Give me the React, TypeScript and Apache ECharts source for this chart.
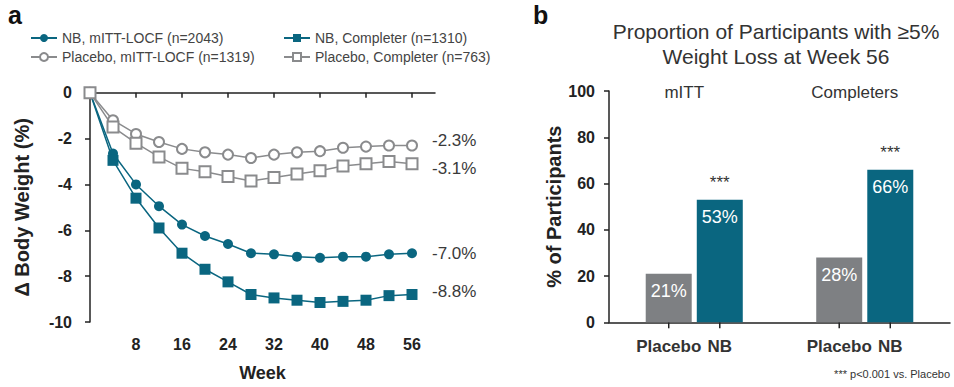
import React, { useEffect, useRef } from "react";
import * as echarts from "echarts";

const weeks = [0, 4, 8, 12, 16, 20, 24, 28, 32, 36, 40, 44, 48, 52, 56];
const xTicks = [8, 16, 24, 32, 40, 48, 56];
const nbItt = [0, -2.65, -4.0, -4.95, -5.75, -6.25, -6.6, -7.0, -7.05, -7.15, -7.2, -7.15, -7.15, -7.05, -7.0];
const nbComp = [0, -2.95, -4.6, -5.9, -7.0, -7.7, -8.25, -8.8, -8.95, -9.05, -9.15, -9.1, -9.05, -8.85, -8.8];
const plItt = [0, -1.2, -1.8, -2.15, -2.45, -2.6, -2.7, -2.85, -2.7, -2.6, -2.55, -2.4, -2.35, -2.3, -2.3];
const plComp = [0, -1.5, -2.2, -2.8, -3.3, -3.45, -3.65, -3.85, -3.7, -3.55, -3.4, -3.2, -3.1, -3.0, -3.1];
const seriesNames = [
  "NB, mITT-LOCF (n=2043)",
  "NB, Completer (n=1310)",
  "Placebo, mITT-LOCF (n=1319)",
  "Placebo, Completer (n=763)",
];

const groups = ["mITT", "Completers"];
const arms = ["Placebo", "NB"];
const placeboPct = [21, 28];
const nbPct = [53, 66];
const sigMark = "***";

const TEAL = "#0a6680";
const GRAY = "#8a8b8d";
const BARGRAY = "#7e8083";
const FONT = "'Liberation Sans', Arial, sans-serif";
const AX = "#222";
const BAR_W = 46;
const BAR_GAP = 0.11;

export default function App() {
  const ref = useRef<HTMLDivElement>(null);
  useEffect(() => {
    const chart = echarts.init(ref.current!, null, { renderer: "svg" });
    const pair = (xs: number[], ys: number[]) => xs.map((x, i) => [x, ys[i]]);
    const lineSeries = (name: string, ys: number[], color: string, symbol: string, size: number, filled: boolean, dy: number) => ({
      type: "line",
      name,
      xAxisIndex: 0,
      yAxisIndex: 0,
      data: pair(weeks, ys),
      symbol,
      symbolSize: size,
      lineStyle: { color, width: 1.5 },
      itemStyle: filled ? { color } : { color: "#fff", borderColor: color, borderWidth: 2 },
      endLabel: {
        show: true,
        formatter: (p: any) => `${p.value[1].toFixed(1)}%`,
        color: "#3a3a3a",
        fontSize: 17,
        fontFamily: FONT,
        distance: 20,
        offset: [0, dy],
      },
    });
    const legendBase = {
      orient: "vertical",
      top: 26,
      itemWidth: 26,
      itemHeight: 10,
      itemGap: 5,
      textStyle: { fontSize: 14, color: "#444", fontFamily: FONT },
    };
    const armCells: number[][] = [];
    groups.forEach((_g, gi) => arms.forEach((_a, ai) => armCells.push([gi, ai])));
    chart.setOption({
      animation: false,
      textStyle: { fontFamily: FONT },
      title: [
        { text: "a", left: 3, top: -3, textStyle: { fontSize: 25, fontWeight: "bold", color: "#111", fontFamily: FONT } },
        { text: "b", left: 528, top: -3, textStyle: { fontSize: 25, fontWeight: "bold", color: "#111", fontFamily: FONT } },
        {
          text: "Proportion of Participants with \u22655%\nWeight Loss at Week 56",
          left: 771,
          top: 14,
          textAlign: "center",
          textStyle: { fontSize: 21, fontWeight: "normal", color: "#333", lineHeight: 25, fontFamily: FONT },
        },
        {
          text: "*** p<0.001 vs. Placebo",
          right: -1,
          top: 363,
          textStyle: { fontSize: 11, fontWeight: "normal", color: "#333", fontFamily: FONT },
        },
      ],
      legend: [
        { ...legendBase, data: [seriesNames[0], seriesNames[2]], left: 25 },
        { ...legendBase, data: [seriesNames[1], seriesNames[3]], left: 278 },
      ],
      grid: [
        { left: 90, right: 519, top: 92.7, bottom: 64.3 },
        { left: 609, right: 4, top: 91, bottom: 64.7 },
      ],
      xAxis: [
        {
          type: "value",
          gridIndex: 0,
          min: 0,
          max: 60,
          name: "Week",
          nameLocation: "middle",
          nameGap: 42,
          nameTextStyle: { fontSize: 18, fontWeight: "bold", color: AX, fontFamily: FONT },
          splitLine: { show: false },
          axisLine: { lineStyle: { color: AX, width: 1.5 } },
          axisTick: { show: true, length: 5, customValues: xTicks, lineStyle: { color: AX, width: 1.5 } },
          axisLabel: { customValues: xTicks, margin: 14, fontSize: 16, fontWeight: "bold", color: AX, fontFamily: FONT },
        },
        {
          type: "category",
          gridIndex: 1,
          data: groups,
          axisLine: { lineStyle: { color: AX, width: 1.5 } },
          axisTick: { show: false },
          axisLabel: { show: false },
        },
        {
          type: "category",
          gridIndex: 1,
          position: "top",
          data: groups,
          axisLine: { show: false },
          axisTick: { show: false },
          axisLabel: {
            show: true,
            margin: -10,
            padding: [0, 20, 0, 0],
            fontSize: 17,
            color: "#333",
            fontFamily: FONT,
          },
        },
      ],
      yAxis: [
        {
          type: "value",
          gridIndex: 0,
          min: -10,
          max: 0,
          interval: 2,
          name: "\u0394 Body Weight (%)",
          nameLocation: "middle",
          nameGap: 58,
          nameTextStyle: { fontSize: 20, fontWeight: "bold", color: AX, fontFamily: FONT },
          splitLine: { show: false },
          axisLine: { show: true, lineStyle: { color: AX, width: 1.5 } },
          axisTick: { show: true, length: 5, lineStyle: { color: AX, width: 1.5 } },
          axisLabel: { margin: 18, fontSize: 16, fontWeight: "bold", color: AX, fontFamily: FONT },
        },
        {
          type: "value",
          gridIndex: 1,
          min: 0,
          max: 100,
          interval: 20,
          name: "% of Participants",
          nameLocation: "middle",
          nameGap: 45,
          nameTextStyle: { fontSize: 20, fontWeight: "bold", color: AX, fontFamily: FONT },
          splitLine: { show: false },
          axisLine: { show: true, lineStyle: { color: AX, width: 1.5 } },
          axisTick: { show: true, length: 5, lineStyle: { color: AX, width: 1.5 } },
          axisLabel: { margin: 14, fontSize: 16, fontWeight: "bold", color: AX, fontFamily: FONT },
        },
      ],
      series: [
        lineSeries(seriesNames[0], nbItt, TEAL, "circle", 10, true, 0),
        lineSeries(seriesNames[1], nbComp, TEAL, "rect", 11, true, -3),
        lineSeries(seriesNames[2], plItt, GRAY, "circle", 10, false, -5),
        lineSeries(seriesNames[3], plComp, GRAY, "rect", 11, false, 5),
        {
          type: "bar",
          name: "Placebo",
          xAxisIndex: 1,
          yAxisIndex: 1,
          data: placeboPct,
          barWidth: BAR_W,
          barGap: `${BAR_GAP * 100}%`,
          itemStyle: { color: BARGRAY },
          label: {
            show: true,
            position: "insideTop",
            distance: 8,
            formatter: "{c}%",
            fontSize: 18,
            color: "#fff",
            fontFamily: FONT,
          },
        },
        {
          type: "bar",
          name: "NB",
          xAxisIndex: 1,
          yAxisIndex: 1,
          data: nbPct,
          barWidth: BAR_W,
          barGap: `${BAR_GAP * 100}%`,
          itemStyle: { color: TEAL },
          label: {
            show: true,
            position: "insideTop",
            distance: 0,
            offset: [0, -34],
            formatter: (p: any) => `{s|${sigMark}}\n{v|${p.value}%}`,
            rich: {
              s: { fontSize: 17, color: "#333", lineHeight: 34, fontFamily: FONT },
              v: { fontSize: 18, color: "#fff", lineHeight: 34, fontFamily: FONT },
            },
          },
        },
        {
          type: "custom",
          xAxisIndex: 1,
          yAxisIndex: 1,
          clip: false,
          silent: true,
          data: armCells,
          renderItem: (_params: any, api: any) => {
            const gi = api.value(0);
            const ai = api.value(1);
            const base = api.coord([gi, 0]);
            const half = (BAR_W * (1 + BAR_GAP)) / 2;
            const x = base[0] + (ai === 0 ? -half : half);
            const y = base[1];
            return {
              type: "group",
              children: [
                { type: "line", shape: { x1: x, y1: y, x2: x, y2: y + 6 }, style: { stroke: AX, lineWidth: 1.5 } },
                {
                  type: "text",
                  x,
                  y: y + 24,
                  style: {
                    text: arms[ai],
                    fontSize: 17,
                    fontWeight: "bold",
                    fontFamily: FONT,
                    fill: "#333",
                    align: "center",
                    verticalAlign: "middle",
                  },
                },
              ],
            };
          },
        },
      ],
    });
    return () => chart.dispose();
  }, []);
  return <div ref={ref} style={{ position: "absolute", left: 0, top: 0, width: 954, height: 387 }} />;
}
